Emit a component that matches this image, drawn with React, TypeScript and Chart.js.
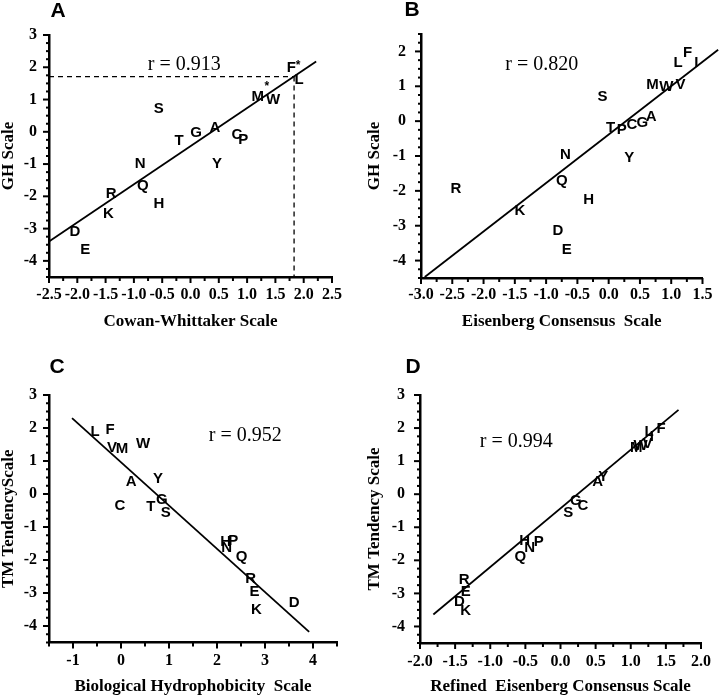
import React, { useEffect, useRef } from "react";
import { Chart, registerables } from "chart.js";
Chart.register(...registerables);

const SERIF = "'Liberation Serif', 'Times New Roman', serif";
const SANS = "'Liberation Sans', Arial, sans-serif";

// ---------- Panel A : Cowan-Whittaker vs GH scale
const aLetters = ["F", "*", "L", "M", "*", "W", "S", "T", "G", "A", "C", "P", "N", "Y", "Q", "R", "H", "K", "D", "E"];
const aX = [1.78, 1.9, 1.92, 1.19, 1.35, 1.46, -0.56, -0.2, 0.1, 0.43, 0.82, 0.93, -0.89, 0.47, -0.84, -1.4, -0.56, -1.45, -2.04, -1.86];
const aY = [1.97, 2.05, 1.6, 1.08, 1.4, 0.98, 0.71, -0.28, -0.03, 0.12, -0.09, -0.25, -0.98, -1.0, -1.69, -1.92, -2.22, -2.55, -3.1, -3.65];
const aFitX = [-2.5, 2.22];
const aFitY = [-3.4, 2.18];
const aMarkX = 1.83;
const aMarkY = 1.71;
const aR = "r = 0.913";
const aRPos = [-0.11, 2.07];
const aXTicks = [-2.5, -2.0, -1.5, -1.0, -0.5, 0.0, 0.5, 1.0, 1.5, 2.0, 2.5];
const aYTicks = [-4, -3, -2, -1, 0, 1, 2, 3];

// ---------- Panel B : Eisenberg consensus vs GH scale
const bLetters = ["F", "L", "I", "M", "W", "V", "S", "T", "P", "C", "G", "A", "N", "Y", "Q", "R", "H", "K", "D", "E"];
const bX = [1.26, 1.11, 1.4, 0.7, 0.92, 1.15, -0.1, 0.03, 0.21, 0.37, 0.54, 0.68, -0.69, 0.33, -0.75, -2.44, -0.32, -1.42, -0.81, -0.67];
const bY = [1.96, 1.67, 1.67, 1.04, 0.98, 1.04, 0.69, -0.2, -0.26, -0.12, -0.06, 0.12, -0.98, -1.04, -1.7, -1.93, -2.25, -2.56, -3.14, -3.69];
const bFitX = [-2.94, 1.75];
const bFitY = [-4.47, 2.05];
const bR = "r = 0.820";
const bRPos = [-1.07, 1.61];
const bXTicks = [-3.0, -2.5, -2.0, -1.5, -1.0, -0.5, 0.0, 0.5, 1.0, 1.5];
const bYTicks = [-4, -3, -2, -1, 0, 1, 2];

// ---------- Panel C : Biological hydrophobicity vs TM tendency
const cLetters = ["L", "F", "V", "M", "W", "Y", "A", "C", "T", "G", "S", "H", "P", "N", "Q", "R", "E", "K", "D"];
const cX = [-0.54, -0.23, -0.19, 0.02, 0.46, 0.77, 0.21, -0.02, 0.62, 0.85, 0.93, 2.18, 2.34, 2.2, 2.51, 2.7, 2.78, 2.82, 3.61];
const cY = [1.88, 1.94, 1.39, 1.36, 1.52, 0.45, 0.36, -0.36, -0.39, -0.18, -0.58, -1.45, -1.42, -1.64, -1.91, -2.58, -2.97, -3.52, -3.3];
const cFitX = [-1.02, 3.92];
const cFitY = [2.3, -4.18];
const cR = "r = 0.952";
const cRPos = [2.59, 1.76];
const cXTicks = [-1, 0, 1, 2, 3, 4];
const cYTicks = [-4, -3, -2, -1, 0, 1, 2, 3];

// ---------- Panel D : Refined Eisenberg consensus vs TM tendency
const dLetters = ["F", "L", "I", "V", "W", "M", "A", "Y", "S", "G", "C", "H", "N", "P", "Q", "R", "E", "D", "K"];
const dX = [1.43, 1.26, 1.3, 1.24, 1.14, 1.08, 0.53, 0.61, 0.11, 0.22, 0.32, -0.51, -0.44, -0.31, -0.57, -1.37, -1.35, -1.44, -1.35];
const dY = [1.97, 1.88, 1.73, 1.52, 1.45, 1.39, 0.36, 0.52, -0.55, -0.21, -0.36, -1.42, -1.61, -1.45, -1.88, -2.58, -2.94, -3.27, -3.52];
const dFitX = [-1.81, 1.68];
const dFitY = [-3.64, 2.55];
const dR = "r = 0.994";
const dRPos = [-0.63, 1.6];
const dXTicks = [-2.0, -1.5, -1.0, -0.5, 0.0, 0.5, 1.0, 1.5, 2.0];
const dYTicks = [-4, -3, -2, -1, 0, 1, 2, 3];

type Spec = {
  ox: number; oy: number; w: number; h: number;
  area: { l: number; t: number; r: number; b: number };
  padLeft: number; xTitlePad: number; yTickPad: number; xTickPad: number;
  xMin: number; xMax: number; yMin: number; yMax: number;
  xTicks: number[]; yTicks: number[]; xMinor: number; yMinor: number; xDec: boolean;
  xTitle: string; yTitle: string;
  letters: string[]; xs: number[]; ys: number[];
  fitX: number[]; fitY: number[];
  rText: string; rPos: number[];
  panel: string; panelPos: number[];
  mark?: number[];
};

const specs: Spec[] = [
  {
    ox: 0, oy: 0, w: 360, h: 348, area: { l: 49, t: 35, r: 332, b: 277 },
    padLeft: 0, xTitlePad: 17.5, yTickPad: 12, xTickPad: 8,
    xMin: -2.5, xMax: 2.5, yMin: -4.5, yMax: 3, xTicks: aXTicks, yTicks: aYTicks, xMinor: 0.25, yMinor: 0.25, xDec: true,
    xTitle: "Cowan-Whittaker Scale", yTitle: "GH Scale",
    letters: aLetters, xs: aX, ys: aY, fitX: aFitX, fitY: aFitY, rText: aR, rPos: aRPos,
    panel: "A", panelPos: [58, 11], mark: [aMarkX, aMarkY],
  },
  {
    ox: 360, oy: 0, w: 360, h: 348, area: { l: 61, t: 34, r: 343, b: 278 },
    padLeft: 6.5, xTitlePad: 17.5, yTickPad: 15, xTickPad: 7.5,
    xMin: -3, xMax: 1.5, yMin: -4.5, yMax: 2.5, xTicks: bXTicks, yTicks: bYTicks, xMinor: 0.25, yMinor: 0.25, xDec: true,
    xTitle: "Eisenberg Consensus  Scale", yTitle: "GH Scale",
    letters: bLetters, xs: bX, ys: bY, fitX: bFitX, fitY: bFitY, rText: bR, rPos: bRPos,
    panel: "B", panelPos: [52, 10],
  },
  {
    ox: 0, oy: 348, w: 360, h: 348, area: { l: 49, t: 47, r: 337, b: 294.5 },
    padLeft: 0, xTitlePad: 0.5, yTickPad: 12, xTickPad: 9,
    xMin: -1.5, xMax: 4.5, yMin: -4.5, yMax: 3, xTicks: cXTicks, yTicks: cYTicks, xMinor: 0.5, yMinor: 0.25, xDec: false,
    xTitle: "Biological Hydrophobicity  Scale", yTitle: "TM TendencyScale",
    letters: cLetters, xs: cX, ys: cY, fitX: cFitX, fitY: cFitY, rText: cR, rPos: cRPos,
    panel: "C", panelPos: [57, 19],
  },
  {
    ox: 360, oy: 348, w: 360, h: 348, area: { l: 60, t: 47, r: 348, b: 295 },
    padLeft: 6.5, xTitlePad: 0.5, yTickPad: 15, xTickPad: 9,
    xMin: -2, xMax: 2, yMin: -4.5, yMax: 3, xTicks: dXTicks, yTicks: dYTicks, xMinor: 0.25, yMinor: 0.25, xDec: true,
    xTitle: "Refined  Eisenberg Consensus Scale", yTitle: "TM Tendency Scale",
    letters: dLetters, xs: dX, ys: dY, fitX: dFitX, fitY: dFitY, rText: dR, rPos: dRPos,
    panel: "D", panelPos: [53, 19],
  },
];

const decoPlugin = {
  id: "deco",
  afterDraw(chart: any, _args: any, opts: any) {
    const spec: Spec = opts.spec;
    if (!spec) return;
    const ctx = chart.ctx;
    const xs = chart.scales.x;
    const ys = chart.scales.y;
    const ca = chart.chartArea;
    ctx.save();
    ctx.strokeStyle = "#000";
    ctx.fillStyle = "#000";
    ctx.lineWidth = 2;
    // x ticks (major + minor)
    const nx = Math.round((spec.xMax - spec.xMin) / spec.xMinor);
    for (let i = 0; i <= nx; i++) {
      const v = spec.xMin + i * spec.xMinor;
      const major = spec.xTicks.some((m) => Math.abs(m - v) < 1e-6);
      const px = xs.getPixelForValue(v);
      ctx.beginPath();
      ctx.moveTo(px, ca.bottom);
      ctx.lineTo(px, ca.bottom + (major ? 6 : 4));
      ctx.stroke();
    }
    const ny = Math.round((spec.yMax - spec.yMin) / spec.yMinor);
    for (let i = 0; i <= ny; i++) {
      const v = spec.yMin + i * spec.yMinor;
      const major = spec.yTicks.some((m) => Math.abs(m - v) < 1e-6);
      const py = ys.getPixelForValue(v);
      ctx.beginPath();
      ctx.moveTo(ca.left, py);
      ctx.lineTo(ca.left - (major ? 6 : 3), py);
      ctx.stroke();
    }
    // amino-acid letters
    ctx.textAlign = "center";
    ctx.textBaseline = "middle";
    const ds = chart.data.datasets[0];
    const meta = chart.getDatasetMeta(0);
    meta.data.forEach((pt: any, i: number) => {
      const lab = ds.letters[i];
      ctx.font = lab === "*" ? `bold 12px ${SANS}` : `bold 15px ${SANS}`;
      ctx.fillText(lab, pt.x, pt.y);
    });
    // correlation text
    ctx.font = `20px ${SERIF}`;
    ctx.fillText(spec.rText, xs.getPixelForValue(spec.rPos[0]), ys.getPixelForValue(spec.rPos[1]));
    // panel letter
    ctx.font = `bold 21px ${SANS}`;
    ctx.fillText(spec.panel, spec.panelPos[0], spec.panelPos[1]);
    ctx.restore();
  },
};

function buildConfig(spec: Spec): any {
  const datasets: any[] = [
    {
      type: "scatter",
      data: spec.xs.map((x, i) => ({ x, y: spec.ys[i] })),
      letters: spec.letters,
      pointRadius: 0,
      pointHoverRadius: 0,
      showLine: false,
    },
    {
      type: "line",
      data: [
        { x: spec.fitX[0], y: spec.fitY[0] },
        { x: spec.fitX[1], y: spec.fitY[1] },
      ],
      borderColor: "#000",
      borderWidth: 1.8,
      pointRadius: 0,
      fill: false,
      tension: 0,
      clip: false,
    },
  ];
  if (spec.mark) {
    const [mx, my] = spec.mark;
    datasets.push(
      {
        type: "line",
        data: [{ x: spec.xMin, y: my }, { x: mx, y: my }],
        borderColor: "#000", borderWidth: 1.3, borderDash: [5, 4], pointRadius: 0, fill: false,
      },
      {
        type: "line",
        data: [{ x: mx, y: my }, { x: mx, y: spec.yMin }],
        borderColor: "#000", borderWidth: 1.3, borderDash: [5, 4], pointRadius: 0, fill: false,
      }
    );
  }
  const tickFont = { family: SERIF, weight: "bold", size: 16 };
  const titleFont = { family: SERIF, weight: "bold", size: 17, lineHeight: 1 };
  const padBottom = 0;
  return {
    type: "scatter",
    data: { datasets },
    plugins: [decoPlugin],
    options: {
      responsive: false,
      animation: false,
      events: [],
      devicePixelRatio: 1,
      layout: {
        padding: { left: spec.padLeft, top: spec.area.t, right: spec.w - spec.area.r, bottom: padBottom },
      },
      plugins: {
        legend: { display: false },
        tooltip: { enabled: false },
        title: { display: false },
        deco: { spec },
      },
      scales: {
        x: {
          type: "linear",
          position: "bottom",
          min: spec.xMin,
          max: spec.xMax,
          afterBuildTicks: (s: any) => {
            s.ticks = spec.xTicks.map((v) => ({ value: v }));
          },
          afterFit: (s: any) => {
            s.height = spec.h - padBottom - spec.area.b;
          },
          ticks: {
            autoSkip: false,
            maxRotation: 0,
            minRotation: 0,
            padding: spec.xTickPad,
            color: "#000",
            font: tickFont,
            callback: (v: any) => (spec.xDec ? Number(v).toFixed(1) : String(Math.round(Number(v)))),
          },
          grid: { display: false, drawTicks: false },
          border: { display: true, color: "#000", width: 2.5 },
          title: {
            display: true,
            text: spec.xTitle,
            color: "#000",
            font: titleFont,
            padding: { top: 0, bottom: spec.xTitlePad },
          },
        },
        y: {
          type: "linear",
          position: "left",
          min: spec.yMin,
          max: spec.yMax,
          afterBuildTicks: (s: any) => {
            s.ticks = spec.yTicks.map((v) => ({ value: v }));
          },
          afterFit: (s: any) => {
            s.width = spec.area.l - spec.padLeft;
          },
          ticks: {
            autoSkip: false,
            padding: spec.yTickPad,
            color: "#000",
            font: tickFont,
            callback: (v: any) => String(Math.round(Number(v))),
          },
          grid: { display: false, drawTicks: false },
          border: { display: true, color: "#000", width: 2.5 },
          title: {
            display: true,
            text: spec.yTitle,
            color: "#000",
            font: titleFont,
            padding: { top: 0, bottom: 0 },
          },
        },
      },
    },
  };
}

function Panel({ spec }: { spec: Spec }) {
  const ref = useRef<HTMLCanvasElement>(null);
  useEffect(() => {
    const chart = new Chart(ref.current as HTMLCanvasElement, buildConfig(spec));
    return () => chart.destroy();
  }, [spec]);
  return (
    <canvas
      ref={ref}
      width={spec.w}
      height={spec.h}
      style={{ position: "absolute", left: spec.ox, top: spec.oy, width: spec.w, height: spec.h, display: "block" }}
    />
  );
}

export default function App() {
  return (
    <div style={{ position: "absolute", left: 0, top: 0, width: 720, height: 696, background: "#fff", overflow: "hidden" }}>
      {specs.map((s) => (
        <Panel key={s.panel} spec={s} />
      ))}
    </div>
  );
}
